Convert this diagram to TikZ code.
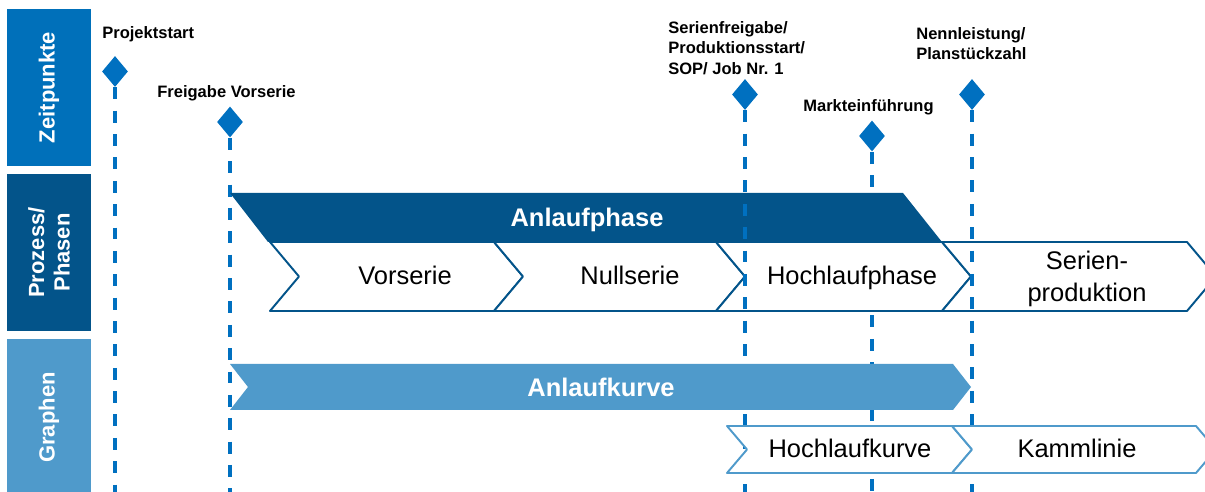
\documentclass[tikz,border=0pt]{standalone}
\usepackage{fontspec}
\setmainfont{Liberation Sans}
\usetikzlibrary{shapes.geometric}
\definecolor{zblau}{RGB}{0,112,186}
\definecolor{pblau}{RGB}{3,84,138}
\definecolor{gblau}{RGB}{79,154,203}
\definecolor{linie}{RGB}{0,112,192}
\tikzset{
  seite/.style={text=white, font=\fontsize{12.5}{14.5}\selectfont\bfseries, align=center, rotate=90, inner sep=0pt, minimum width=157*0.02cm, minimum height=84*0.02cm},
  meilenstein/.style={diamond, fill=linie, inner sep=0pt, minimum width=26*0.02cm, minimum height=31*0.02cm},
  ziel/.style={font=\fontsize{9.4}{11.6}\selectfont\bfseries, inner sep=0pt, align=left},
  zeitlinie/.style={draw=linie, line width=1.9pt, dash pattern=on 6.8pt off 6.5pt},
  phase/.style={draw=pblau, line width=1.1pt, fill=white},
  kurve/.style={draw=gblau, line width=1.1pt, fill=white},
  etikett/.style={font=\fontsize{14.5}{18}\selectfont, align=center, inner sep=0pt},
  balken/.style={text=white, font=\fontsize{14.5}{18}\selectfont\bfseries, inner sep=0pt, anchor=base}
}
\begin{document}
\begin{tikzpicture}[x=0.02cm, y=-0.02cm, line join=round]
	\def\yunten{492};
	\useasboundingbox (0,0) rectangle (1205,\yunten);
	\clip (0,0) rectangle (1205,\yunten);
	\node[seite, fill=zblau] (zeit) at (49,87.5) {Zeitpunkte};
	\node[seite, fill=pblau] (proz) at (49,252.5) {Prozess/\\Phasen};
	\node[seite, fill=gblau] (graph) at (49,417.5) {Graphen};
	\node[meilenstein] (mStart) at (115,71.5) {};
	\node[meilenstein] (mVor) at (230,122) {};
	\node[meilenstein] (mSop) at (745,94.5) {};
	\node[meilenstein] (mMarkt) at (872,136) {};
	\node[meilenstein] (mNenn) at (972,94.5) {};
	\node[ziel, anchor=base west] (lStart) at (102,39) {Projektstart};
	\node[ziel, anchor=base west] (lVor) at (157,98) {Freigabe Vorserie};
	\node[ziel, anchor=north west] (lSop) at (668,21) {Serienfreigabe/\\Produktionsstart/\\SOP/ Job Nr. 1};
	\node[ziel, anchor=base west] (lMarkt) at (803,112) {Markteinführung};
	\node[ziel, anchor=north west] (lNenn) at (916,27) {Nennleistung/\\Planstückzahl};
	\coordinate (eStart) at (mStart |- 0,\yunten);
	\coordinate (eVor) at (mVor |- 0,\yunten);
	\coordinate (eSop) at (mSop |- 0,\yunten);
	\coordinate (eMarkt) at (mMarkt |- 0,\yunten);
	\coordinate (eNenn) at (mNenn |- 0,\yunten);
	\draw[zeitlinie] (mStart.south) -- (eStart);
	\draw[zeitlinie] (mVor.south) -- (eVor);
	\draw[zeitlinie] (mMarkt.south) -- (eMarkt);
	\fill[pblau] (230,193) -- (903,193) -- (942,242) -- (268,242) -- cycle;
	\node[balken] (tPhase) at (587,227) {Anlaufphase};
	\draw[phase] (270,242) -- (494,242) -- (523,276.5) -- (494,311) -- (270,311) -- (299,276.5) -- cycle;
	\draw[phase] (494,242) -- (716,242) -- (745,276.5) -- (716,311) -- (494,311) -- (523,276.5) -- cycle;
	\draw[phase] (716,242) -- (942,242) -- (971,276.5) -- (942,311) -- (716,311) -- (745,276.5) -- cycle;
	\draw[phase] (942,242) -- (1187,242) -- (1216,276.5) -- (1187,311) -- (942,311) -- (971,276.5) -- cycle;
	\node[etikett, anchor=base] (pVor) at (405,285) {Vorserie};
	\node[etikett, anchor=base] (pNull) at (630,285) {Nullserie};
	\node[etikett, anchor=base] (pHoch) at (852,285) {Hochlaufphase};
	\node[etikett] (pSerie) at (1087,279) {Serien-\\produktion};
	\draw[zeitlinie] (mSop.south) -- (eSop);
	\draw[zeitlinie] (mNenn.south) -- (eNenn);
	\fill[gblau] (230,364) -- (953,364) -- (971,387) -- (953,410) -- (230,410) -- (248,387) -- cycle;
	\node[balken] (tKurve) at (601,397) {Anlaufkurve};
	\draw[kurve] (727,426) -- (952,426) -- (972,449.5) -- (952,473) -- (727,473) -- (747,449.5) -- cycle;
	\draw[kurve] (952,426) -- (1196,426) -- (1216,449.5) -- (1196,473) -- (952,473) -- (972,449.5) -- cycle;
	\node[etikett, anchor=base] (gHoch) at (850,458) {Hochlaufkurve};
	\node[etikett, anchor=base] (gKamm) at (1077,458) {Kammlinie};
\end{tikzpicture}
\end{document}
